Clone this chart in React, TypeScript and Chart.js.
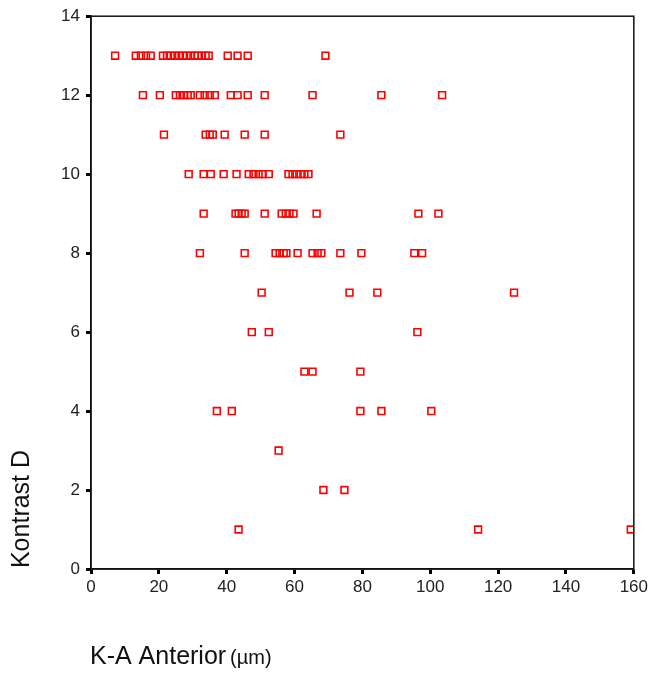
import React, { useEffect, useRef } from "react";
import { Chart, registerables } from "chart.js";

Chart.register(...registerables);

// K-A Anterior (µm) values for each Kontrast D level
const kontrast13 = [7.1, 13.2, 14.7, 16.2, 17.6, 21.2, 22.4, 23.5, 24.7, 25.9, 27.1, 28.2, 29.4, 30.6, 31.5, 32.6, 33.8, 34.7, 40.3, 43.2, 46.2, 69.1];
const kontrast12 = [15.3, 20.3, 25, 26.2, 27.4, 28.5, 29.4, 32.1, 33.5, 35, 36.5, 41.2, 43.2, 46.2, 51.2, 65.3, 85.6, 103.5];
const kontrast11 = [21.5, 33.8, 35, 35.9, 39.4, 45.3, 51.2, 73.5];
const kontrast10 = [28.8, 33.2, 35.3, 39.1, 42.9, 46.5, 47.9, 49.4, 50.6, 52.4, 58.2, 59.4, 60.6, 61.8, 62.9, 64.1];
const kontrast9 = [33.2, 42.6, 43.5, 44.4, 45.3, 51.2, 56.2, 57.4, 58.5, 59.7, 66.5, 96.5, 102.4];
const kontrast8 = [32.1, 45.3, 54.4, 55.6, 56.8, 57.6, 60.9, 65.3, 66.8, 67.9, 73.5, 79.7, 95.3, 97.6];
const kontrast7 = [50.3, 76.2, 84.4, 124.7];
const kontrast6 = [47.4, 52.4, 96.2];
const kontrast5 = [62.9, 65.3, 79.4];
const kontrast4 = [37.1, 41.5, 79.4, 85.6, 100.3];
const kontrast3 = [55.3];
const kontrast2 = [68.5, 74.7];
const kontrast1 = [43.5, 114.1, 159.1];

const levels: [number, number[]][] = [
  [13, kontrast13], [12, kontrast12], [11, kontrast11], [10, kontrast10],
  [9, kontrast9], [8, kontrast8], [7, kontrast7], [6, kontrast6],
  [5, kontrast5], [4, kontrast4], [3, kontrast3], [2, kontrast2], [1, kontrast1],
];

const xTitle = "K-A Anterior";
const xTitleUnit = "(µm)";
const yTitle = "Kontrast D";

const FONT = "'Liberation Sans', Arial, sans-serif";

const titlesPlugin = {
  id: "customTitles",
  afterDraw(chart: any) {
    const { ctx, chartArea } = chart;
    ctx.save();
    // frame
    ctx.strokeStyle = "#111";
    ctx.lineWidth = 1.5;
    ctx.strokeRect(chartArea.left, chartArea.top, chartArea.right - chartArea.left, chartArea.bottom - chartArea.top);
    // x title
    ctx.fillStyle = "#111";
    ctx.textBaseline = "alphabetic";
    ctx.textAlign = "left";
    ctx.font = `25px ${FONT}`;
    const x0 = chartArea.left - 1;
    const baseY = 664;
    ctx.fillText(xTitle, x0, baseY);
    const w = ctx.measureText(xTitle + " ").width;
    ctx.font = `20px ${FONT}`;
    ctx.fillText(xTitleUnit, x0 + w - 3, baseY);
    // y title
    ctx.translate(29, 509);
    ctx.rotate(-Math.PI / 2);
    ctx.textAlign = "center";
    ctx.font = `25px ${FONT}`;
    ctx.fillText(yTitle, 0, 0);
    ctx.restore();
  },
};

export default function App() {
  const ref = useRef<HTMLCanvasElement>(null);

  useEffect(() => {
    const data = levels.flatMap(([k, xs]) => xs.map((x) => ({ x, y: k })));
    const chart = new Chart(ref.current!, {
      type: "scatter",
      data: {
        datasets: [
          {
            data,
            pointStyle: "rect",
            pointRadius: 4.8,
            pointHoverRadius: 4.8,
            borderWidth: 1.6,
            borderColor: "#ff0000",
            backgroundColor: "rgba(0,0,0,0)",
          },
        ],
      },
      options: {
        responsive: false,
        animation: false,
        devicePixelRatio: 1,
        layout: { padding: { top: 14, right: 15, left: 0, bottom: 0 } },
        plugins: { legend: { display: false }, tooltip: { enabled: false } },
        scales: {
          x: {
            type: "linear",
            min: 0,
            max: 160,
            afterFit: (s: any) => { s.height = 104; },
            ticks: { stepSize: 20, color: "#222", font: { size: 17, family: FONT }, padding: 3, maxRotation: 0 },
            grid: { drawOnChartArea: false, drawTicks: true, tickLength: 5, tickWidth: 3, tickColor: "#000" },
            border: { color: "#111", width: 1.5 },
          },
          y: {
            type: "linear",
            min: 0,
            max: 14,
            afterFit: (s: any) => { s.width = 91; },
            ticks: { stepSize: 2, color: "#222", font: { size: 17, family: FONT }, padding: 6 },
            grid: { drawOnChartArea: false, drawTicks: true, tickLength: 5, tickWidth: 3, tickColor: "#000" },
            border: { color: "#111", width: 1.5 },
          },
        },
      },
      plugins: [titlesPlugin],
    });
    return () => chart.destroy();
  }, []);

  return (
    <div style={{ position: "absolute", left: 0, top: 0, width: 651, height: 673, background: "#fff" }}>
      <canvas ref={ref} width={651} height={673} />
    </div>
  );
}
